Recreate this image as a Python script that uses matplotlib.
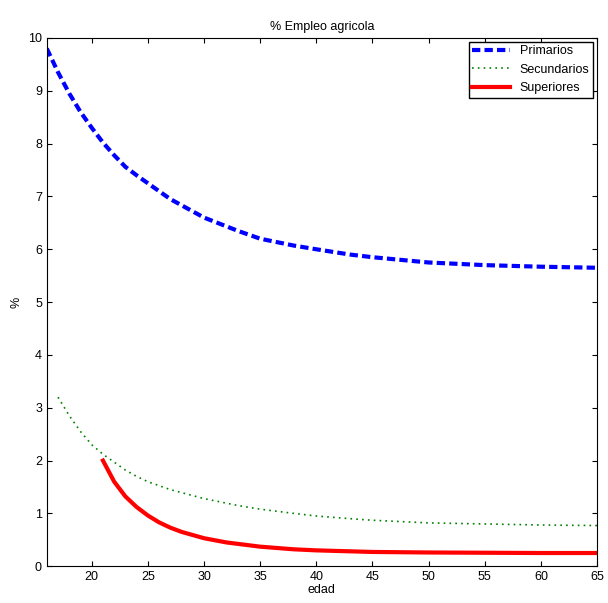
import matplotlib
matplotlib.use("Agg")
import matplotlib.pyplot as plt
plt.rcParams['font.family'] = ['Liberation Sans', 'DejaVu Sans']

edad_p = [16,17,18,19,20,21,22,23,24,25,27,30,33,35,38,40,43,45,48,50,55,60,65]
primarios = [9.8,9.35,8.95,8.6,8.3,8.02,7.78,7.56,7.4,7.25,6.95,6.6,6.35,6.2,6.07,6.0,5.9,5.85,5.79,5.75,5.7,5.67,5.65]
edad_s = [17,18,19,20,21,22,23,24,25,27,30,33,35,38,40,43,45,48,50,55,60,65]
secundarios = [3.2,2.85,2.55,2.3,2.12,1.97,1.82,1.7,1.6,1.45,1.28,1.15,1.08,1.0,0.95,0.9,0.87,0.84,0.82,0.8,0.78,0.77]
edad_u = [21,22,23,24,25,26,27,28,30,32,35,38,40,45,50,55,60,65]
superiores = [2.0,1.6,1.32,1.12,0.96,0.83,0.73,0.65,0.53,0.45,0.37,0.32,0.3,0.27,0.26,0.255,0.25,0.25]

fig = plt.figure(figsize=(6.08,6.03), dpi=100)
ax = fig.add_axes([0.077,0.061,0.905,0.876])
ax.plot(edad_p, primarios, color='blue', ls=(0,(2,1)), lw=3, label='Primarios')
ax.plot(edad_s, secundarios, color='green', ls=(0,(1,2.5)), lw=1.2, label='Secundarios')
ax.plot(edad_u, superiores, color='red', ls='-', lw=3, label='Superiores')
ax.set_xlim(16,65); ax.set_ylim(0,10)
ax.set_xticks(range(20,66,5)); ax.set_yticks(range(0,11))
ax.tick_params(direction='in', labelsize=9, top=True, right=True)
ax.set_title('% Empleo agricola', fontsize=9)
ax.set_xlabel('edad', fontsize=9, labelpad=1)
ax.set_ylabel('%', fontsize=9)
ax.legend(loc='upper right', fontsize=9, fancybox=False, edgecolor='black', handlelength=3, borderpad=0.3, labelspacing=0.5, borderaxespad=0.3, framealpha=1)
fig.savefig('out.png')
